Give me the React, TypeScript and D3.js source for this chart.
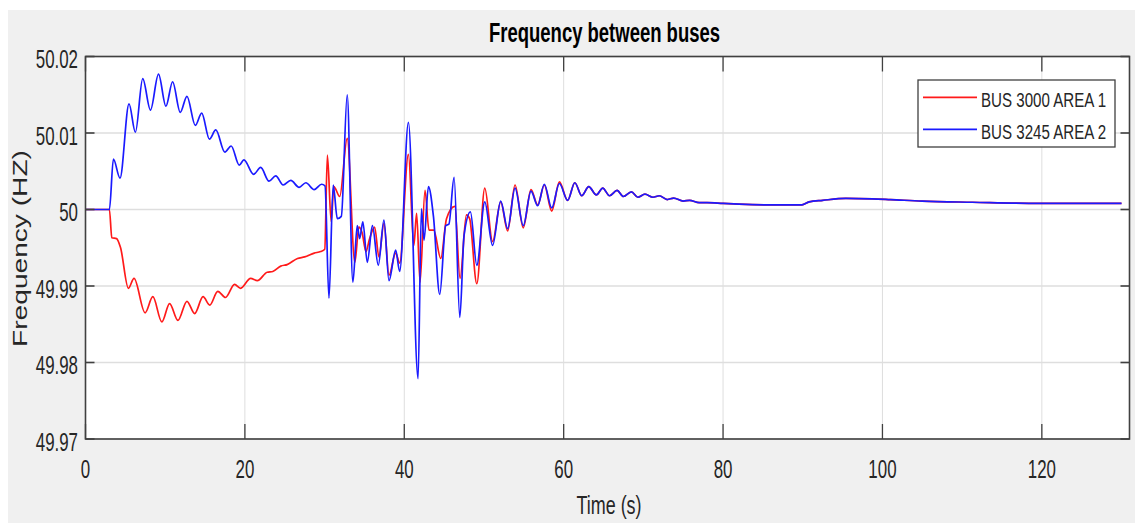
import React from "react";
import * as d3 from "d3";

const timeArea1 = [0, 3.0, 3.3, 3.9, 4.4, 5.38, 6.09, 7.48, 8.45, 9.58, 10.55, 11.6, 12.73, 13.7, 14.75, 15.59, 16.6, 17.57, 18.7, 19.46, 20.72, 21.56, 22.8, 23.5, 24.5, 25.3, 26.6, 27.5, 28.7, 29.5, 30.02, 30.35, 30.83, 31.16, 31.9, 32.84, 33.8, 34.3, 34.7, 35.2, 35.6, 36.28, 36.82, 37.45, 38.08, 38.92, 39.42, 40.52, 41.2, 41.55, 41.98, 42.6, 43.1, 43.7, 44.58, 45.3, 46.34, 47.0, 47.8, 48.2, 49.1, 50.1, 51.08, 52.1, 52.97, 53.9, 54.93, 55.9, 56.74, 57.57, 58.5, 59.46, 60.5, 61.4, 62.27, 63.15, 64.1, 64.9, 65.75, 66.7, 67.5, 68.5, 69.3, 70.2, 71.2, 72.0, 73.0, 73.8, 75.0, 75.8, 77.0, 78.0, 80, 82, 86, 89.9, 90.8, 92.5, 95.4, 98.7, 101, 105, 111.3, 119.6, 130];
const freqArea1 = [50, 50, 49.9963, 49.9962, 49.995, 49.9897, 49.991, 49.9865, 49.9886, 49.9853, 49.9877, 49.9855, 49.988, 49.9864, 49.9886, 49.9875, 49.9893, 49.9885, 49.9902, 49.9897, 49.991, 49.9907, 49.9918, 49.9919, 49.9926, 49.9928, 49.9936, 49.9938, 49.9943, 49.9945, 49.9948, 50.0071, 49.9984, 50.003, 50.0017, 50.0093, 49.9931, 49.9977, 49.997, 49.9945, 49.996, 49.9977, 49.9938, 49.9982, 49.9914, 49.9943, 49.993, 50.0072, 49.9953, 49.9995, 49.9905, 50.0025, 49.9973, 49.9973, 49.9936, 49.9988, 50.0004, 49.991, 49.9993, 49.9988, 49.9903, 50.0028, 49.9958, 50.001, 49.9972, 50.0032, 49.9976, 50.0026, 50.0006, 50.0032, 49.9998, 50.0036, 50.0012, 50.0035, 50.0018, 50.003, 50.0019, 50.0028, 50.0018, 50.0025, 50.0017, 50.0023, 50.0016, 50.002, 50.0016, 50.0018, 50.0013, 50.0015, 50.0011, 50.0012, 50.0009, 50.0009, 50.0008, 50.0007, 50.0006, 50.0006, 50.001, 50.0012, 50.00145, 50.0014, 50.0013, 50.0011, 50.00095, 50.0008, 50.0008];

const timeArea2 = [0, 3.0, 3.5, 4.33, 5.46, 6.26, 7.18, 8.15, 9.16, 10.09, 10.93, 11.89, 12.73, 13.78, 14.58, 15.55, 16.35, 17.48, 18.28, 19.29, 19.88, 21.1, 21.98, 23.03, 23.87, 24.8, 25.76, 26.8, 27.65, 28.7, 29.63, 30.05, 30.55, 31.08, 31.6, 32.1, 32.84, 33.55, 34.1, 34.4, 34.8, 35.36, 36.0, 36.74, 37.45, 38.08, 38.92, 39.42, 40.52, 41.73, 42.15, 42.48, 43.03, 43.66, 44.45, 45.2, 45.6, 46.25, 46.97, 47.5, 48.3, 49.1, 50.1, 51.08, 52.1, 52.97, 53.9, 54.93, 55.9, 56.74, 57.57, 58.5, 59.46, 60.5, 61.4, 62.27, 63.15, 64.1, 64.9, 65.75, 66.7, 67.5, 68.5, 69.3, 70.2, 71.2, 72.0, 73.0, 73.8, 75.0, 75.8, 77.0, 78.0, 80, 82, 86, 89.9, 90.8, 92.5, 95.4, 98.7, 101, 105, 111.3, 119.6, 130];
const freqArea2 = [50, 50, 50.0066, 50.0041, 50.0138, 50.0101, 50.0171, 50.013, 50.0177, 50.0135, 50.0167, 50.0127, 50.0148, 50.011, 50.0126, 50.0092, 50.0104, 50.0075, 50.0083, 50.0058, 50.0065, 50.0046, 50.0055, 50.0037, 50.0044, 50.0032, 50.0038, 50.0029, 50.0035, 50.0026, 50.0033, 50.0031, 49.9884, 50.0032, 49.9988, 49.9991, 50.015, 49.9905, 49.9979, 49.9962, 49.9984, 49.9931, 49.9979, 49.9927, 49.9986, 49.9907, 49.9947, 49.9919, 50.0114, 49.9779, 50.0001, 49.996, 50.003, 49.9991, 49.9889, 49.9979, 49.9981, 50.0042, 49.9859, 49.9966, 49.9997, 49.9927, 50.001, 49.9953, 50.0011, 49.9975, 50.0028, 49.9979, 50.0024, 50.0005, 50.0033, 50.0002, 50.0034, 50.0012, 50.0035, 50.0018, 50.003, 50.0019, 50.0028, 50.0018, 50.0025, 50.0017, 50.0023, 50.0016, 50.002, 50.0016, 50.0018, 50.0013, 50.0015, 50.0011, 50.0012, 50.0009, 50.0009, 50.0008, 50.0007, 50.0006, 50.0006, 50.001, 50.0012, 50.00145, 50.0014, 50.0013, 50.0011, 50.00095, 50.0008, 50.0008];

const xTicks = [0, 20, 40, 60, 80, 100, 120];
const yTicks = [49.97, 49.98, 49.99, 50, 50.01, 50.02];
const yTickLabels = ["49.97", "49.98", "49.99", "50", "50.01", "50.02"];
const seriesNames = ["BUS 3000 AREA 1", "BUS 3245 AREA 2"];
const seriesColors = ["#ff1a1a", "#1a1aff"];

const FONT = "'Liberation Sans', Arial, Helvetica, sans-serif";
const TXT = "#262626";

export default function App() {
  const left = 85.5, right = 1129.5, top = 56.5, bottom = 439;
  const x = d3.scaleLinear().domain([0, 131]).range([left, right]);
  const y = d3.scaleLinear().domain([49.97, 50.02]).range([bottom, top]);
  const line = d3
    .line<[number, number]>()
    .x((d) => x(d[0]))
    .y((d) => y(d[1]))
    .curve(d3.curveMonotoneX);
  const s1 = timeArea1.map((t, i) => [t, freqArea1[i]] as [number, number]);
  const s2 = timeArea2.map((t, i) => [t, freqArea2[i]] as [number, number]);
  const sx = 0.65;

  return (
    <svg
      width={1135}
      height={523}
      style={{ position: "absolute", left: 0, top: 0, display: "block" }}
    >
      <rect x={0} y={0} width={1135} height={523} fill="#ffffff" />
      <rect x={8} y={10} width={1127} height={513} fill="#f0f0f0" />
      <rect x={left} y={top} width={right - left} height={bottom - top} fill="#ffffff" />
      {xTicks.map((t) => (
        <line key={"gx" + t} x1={x(t)} x2={x(t)} y1={top} y2={bottom} stroke="#dedede" strokeWidth={1} />
      ))}
      {yTicks.map((t) => (
        <line key={"gy" + t} x1={left} x2={right} y1={y(t)} y2={y(t)} stroke="#dedede" strokeWidth={1.4} />
      ))}
      <path d={line(s1) || ""} fill="none" stroke={seriesColors[0]} strokeWidth={1.7} />
      <path d={line(s2) || ""} fill="none" stroke={seriesColors[1]} strokeWidth={1.7} />
      <rect x={left} y={top} width={right - left} height={bottom - top} fill="none" stroke="#404040" strokeWidth={1.6} />
      {xTicks.map((t) => (
        <g key={"tx" + t}>
          <line x1={x(t)} x2={x(t)} y1={bottom} y2={bottom - 15} stroke="#404040" strokeWidth={1.3} />
          <line x1={x(t)} x2={x(t)} y1={top} y2={top + 15} stroke="#404040" strokeWidth={1.3} />
          <text
            transform={`translate(${x(t)},478) scale(${sx},1)`}
            textAnchor="middle"
            fontFamily={FONT}
            fontSize={26}
            fill={TXT}
          >
            {t}
          </text>
        </g>
      ))}
      {yTicks.map((t, i) => (
        <g key={"ty" + t}>
          <line x1={left} x2={left + 9} y1={y(t)} y2={y(t)} stroke="#404040" strokeWidth={1.6} />
          <line x1={right} x2={right - 9} y1={y(t)} y2={y(t)} stroke="#404040" strokeWidth={1.6} />
          <text
            transform={`translate(78,${y(t) + 11.5}) scale(${sx},1)`}
            textAnchor="end"
            fontFamily={FONT}
            fontSize={26}
            fill={TXT}
          >
            {yTickLabels[i]}
          </text>
        </g>
      ))}
      <text
        transform="translate(604.5,41.7) scale(0.66,1)"
        textAnchor="middle"
        fontFamily={FONT}
        fontWeight="bold"
        fontSize={28}
        fill="#000"
      >
        Frequency between buses
      </text>
      <text
        transform="translate(609,514) scale(0.69,1)"
        textAnchor="middle"
        fontFamily={FONT}
        fontSize={26}
        fill={TXT}
      >
        Time (s)
      </text>
      <text
        transform="translate(27,248.5) rotate(-90) scale(1.34,1)"
        textAnchor="middle"
        fontFamily={FONT}
        fontSize={21}
        fill={TXT}
      >
        Frequency (HZ)
      </text>
      <rect x={918} y={80} width={197} height={67} fill="#ffffff" stroke="#404040" strokeWidth={1.3} />
      {seriesNames.map((n, i) => (
        <g key={n}>
          <line x1={923} x2={977} y1={97.3 + i * 32} y2={97.3 + i * 32} stroke={seriesColors[i]} strokeWidth={1.7} />
          <text
            transform={`translate(981,${106.7 + i * 32.5}) scale(0.72,1)`}
            fontFamily={FONT}
            fontSize={21}
            fill={TXT}
          >
            {n}
          </text>
        </g>
      ))}
    </svg>
  );
}
